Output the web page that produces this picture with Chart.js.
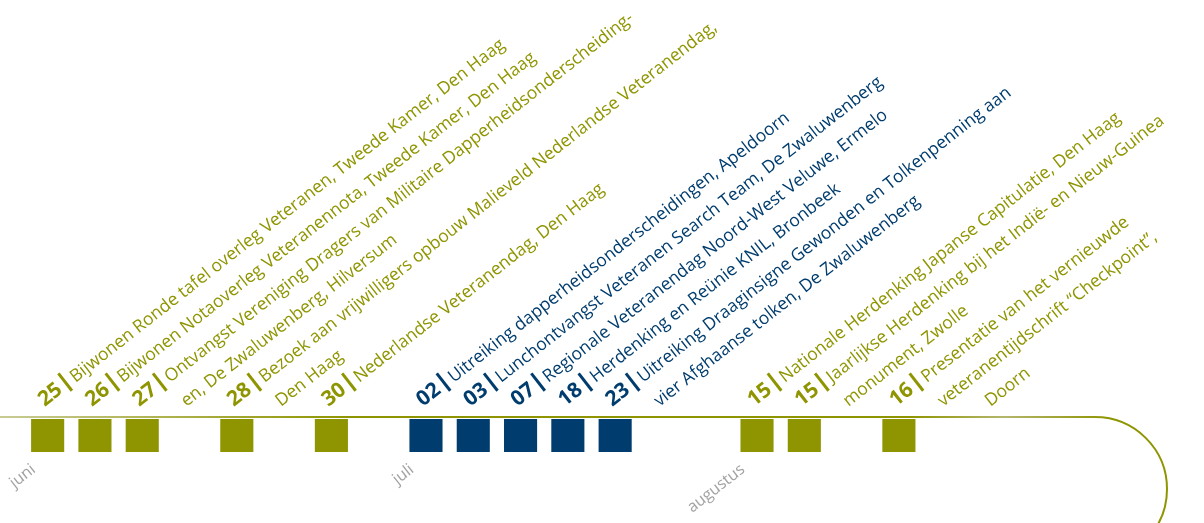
<!DOCTYPE html>
<html>
<head>
<meta charset="utf-8">
<script src="https://cdn.jsdelivr.net/npm/chart.js@4.4.1/dist/chart.umd.min.js"></script>
<style>
  html, body { margin: 0; padding: 0; background: #fff; }
</style>
</head>
<body>
<canvas id="timeline" width="1204" height="523"></canvas>
<script>
/* number of slots on the timeline, left to right */
var slotCount = 24;

/* events: slot on the timeline, day, month index */
var eventSlots = [0, 1, 2, 4, 6, 8, 9, 10, 11, 12, 15, 16, 18];
var eventDays = ['25', '26', '27', '28', '30', '02', '03', '07', '18', '23', '15', '15', '16'];
var eventMonths = [0, 0, 0, 0, 0, 1, 1, 1, 1, 1, 2, 2, 2];

/* event descriptions, one entry per line (each extra line takes the next slot) */
var eventTexts = [
  ['Bijwonen Ronde tafel overleg Veteranen, Tweede Kamer, Den Haag'],
  ['Bijwonen Notaoverleg Veteranennota, Tweede Kamer, Den Haag'],
  ['Ontvangst Vereniging Dragers van Militaire Dapperheidsonderscheiding-', 'en, De Zwaluwenberg, Hilversum'],
  ['Bezoek aan vrijwilligers opbouw Malieveld Nederlandse Veteranendag,', 'Den Haag'],
  ['Nederlandse Veteranendag, Den Haag'],
  ['Uitreiking dapperheidsonderscheidingen, Apeldoorn'],
  ['Lunchontvangst Veteranen Search Team, De Zwaluwenberg'],
  ['Regionale Veteranendag Noord-West Veluwe, Ermelo'],
  ['Herdenking en Reünie KNIL, Bronbeek'],
  ['Uitreiking Draaginsigne Gewonden en Tolkenpenning aan', 'vier Afghaanse tolken, De Zwaluwenberg'],
  ['Nationale Herdenking Japanse Capitulatie, Den Haag'],
  ['Jaarlijkse Herdenking bij het Indië- en Nieuw-Guinea', 'monument, Zwolle'],
  ['Presentatie van het vernieuwde', 'veteranentijdschrift \u201cCheckpoint\u201d,', 'Doorn']
];

/* month tick labels and where they sit */
var monthNames = ['juni', 'juli', 'augustus'];
var monthSlots = [0, 8, 15];
var monthColors = ['#8f9500', '#003d6e', '#8f9500'];

var OLIVE = '#8f9500';
var TEXT_ANGLE = -38 * Math.PI / 180;

/* build the bar values and colours per slot */
var slotLabels = [];
var slotValues = [];
var slotColors = [];
for (var s = 0; s < slotCount; s++) {
  var idx = eventSlots.indexOf(s);
  slotLabels.push(idx >= 0 ? eventDays[idx] : '');
  slotValues.push(idx >= 0 ? 1 : null);
  slotColors.push(idx >= 0 ? monthColors[eventMonths[idx]] : 'rgba(0,0,0,0)');
}

/* the olive timeline with its bend at the right */
var timelinePlugin = {
  id: 'timeline',
  beforeDatasetsDraw: function(chart) {
    var ctx = chart.ctx;
    var x = chart.scales.x;
    var y = chart.chartArea.top - 2;
    var bendX = x.right - 64;
    var r = 72;

    var grad = ctx.createLinearGradient(0, 0, bendX + r, 0);
    grad.addColorStop(0, '#c9cb94');
    grad.addColorStop(0.3, OLIVE);
    grad.addColorStop(0.78, OLIVE);
    grad.addColorStop(0.86, '#b4b66c');
    grad.addColorStop(0.95, OLIVE);

    ctx.save();
    ctx.strokeStyle = grad;
    ctx.lineWidth = 2;
    ctx.beginPath();
    ctx.moveTo(0, y);
    ctx.lineTo(bendX, y);
    ctx.arc(bendX, y + r, r, -Math.PI / 2, 45 * Math.PI / 180);
    ctx.stroke();
    ctx.restore();
  }
};

/* rotated event texts above the squares */
var eventLabelPlugin = {
  id: 'eventLabels',
  afterDatasetsDraw: function(chart) {
    var ctx = chart.ctx;
    var x = chart.scales.x;
    var baseY = chart.chartArea.top - 12;

    eventSlots.forEach(function(slot, i) {
      var color = monthColors[eventMonths[i]];
      eventTexts[i].forEach(function(line, k) {
        var px = x.getPixelForValue(slot + k) - 3;
        ctx.save();
        ctx.translate(px, baseY);
        ctx.rotate(TEXT_ANGLE);
        ctx.fillStyle = color;
        ctx.textAlign = 'left';
        ctx.textBaseline = 'alphabetic';
        var off = 0;
        if (k === 0) {
          ctx.font = 'bold 21px "Open Sans"';
          ctx.fillText(eventDays[i], 0, 0);
          off = ctx.measureText(eventDays[i]).width + 6;
          // the separator bar
          ctx.fillRect(off, -18, 3, 22);
          off += 9;
        }
        ctx.font = '500 17.5px "Open Sans"';
        ctx.fillText(line, off, 0);
        ctx.restore();
      });
    });
  }
};

var ctx = document.getElementById('timeline').getContext('2d');
var chart = new Chart(ctx, {
  type: 'bar',
  data: {
    labels: slotLabels,
    datasets: [{
      data: slotValues,
      backgroundColor: slotColors,
      borderWidth: 0,
      categoryPercentage: 0.7,
      barPercentage: 1
    }]
  },
  options: {
    responsive: false,
    animation: false,
    layout: {
      padding: { top: 419, left: 24, right: 45, bottom: 0 }
    },
    plugins: {
      legend: { display: false },
      tooltip: { enabled: false }
    },
    scales: {
      x: {
        grid: { display: false },
        border: { display: false },
        ticks: {
          autoSkip: false,
          minRotation: 38,
          maxRotation: 38,
          padding: 0,
          labelOffset: -14,
          color: '#a3a3a3',
          font: { family: 'Open Sans', size: 16 },
          callback: function(value, index) {
            var m = monthSlots.indexOf(index);
            return m >= 0 ? monthNames[m] : '';
          }
        },
        afterFit: function(scale) {
          scale.height = 71;
        }
      },
      y: {
        display: false,
        min: 0,
        max: 1
      }
    }
  },
  plugins: [timelinePlugin, eventLabelPlugin]
});
</script>
</body>
</html>
